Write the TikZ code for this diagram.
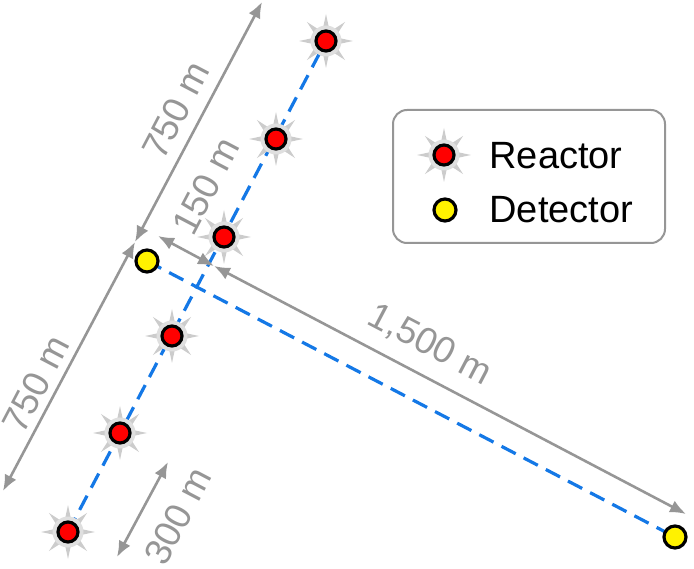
\documentclass[tikz,border=0pt]{standalone}
\usepackage{fontspec}
\setmainfont{Liberation Sans}
\usetikzlibrary{arrows.meta}
\definecolor{blu}{RGB}{20,120,230}
\definecolor{gr}{RGB}{150,150,150}
\tikzset{
  dim/.style={gr,line width=2.6pt,{Latex[length=16pt,width=13pt]}-{Latex[length=16pt,width=13pt]}},
  lab/.style={text=gr,font=\fontsize{37}{37}\selectfont},
  link/.style={blu,line width=3.2pt,dash pattern=on 16pt off 9pt},
  reactor/.pic={
    \foreach \a in {0,45,...,315}{\fill[gray!40] (\a:27)--(\a+10:15)--(\a-10:15)--cycle;}
    \fill[gray!25] (0,0) circle (15.5);
    \filldraw[fill=red,draw=black,line width=3.2pt] (0,0) circle (10);
  },
  det/.style={circle,fill=yellow,draw=black,line width=3.2pt,minimum size=22pt,inner sep=0}
}
\begin{document}
\begin{tikzpicture}[x=1pt,y=-1pt]
\useasboundingbox (0,0) rectangle (694,569);
\coordinate (r1) at (68,532);
\coordinate (r6) at (326,41);
\coordinate (nd) at (147,261);
\coordinate (fd) at (675,537);
\draw[link] (r1) -- (r6);
\draw[link] (nd) -- (fd);
\foreach \p/\q in {68/532,120/433,172/336,224/237,276/139,326/41}{\pic at (\p,\q) {reactor};}
\node[det] (near) at (nd) {};
\node[det] (far) at (fd) {};
% dimensions
\coordinate (a1) at (262,2); \coordinate (a2) at (135,242);
\coordinate (a3) at (3,491);
\draw[dim] (a2) -- (a1);
\draw[dim] (a3) -- (a2);
\coordinate (b1) at (158,236); \coordinate (b2) at (214,266);
\draw[dim] (b1) -- (b2);
\coordinate (c2) at (686,514);
\draw[dim] (b2) -- (c2);
\coordinate (d1) at (117,557); \coordinate (d2) at (168,462);
\draw[dim] (d1) -- (d2);
\node[lab,rotate=62.3] (l1) at (176,110) {750 m};
\node[lab,rotate=62.3] (l2) at (36,384) {750 m};
\node[lab,rotate=62.3] (l3) at (206,186) {150 m};
\node[lab,rotate=-27.7] (l4) at (430,345) {1,500 m};
\node[lab,rotate=62.3] (l5) at (178,516) {300 m};
% legend
\draw[gr,line width=2pt,fill=white,rounded corners=14pt] (393,110) rectangle (665,243);
\pic at (444,155) {reactor};
\node[det] (ld) at (445,210) {};
\node[anchor=west,font=\fontsize{38}{38}\selectfont] (t1) at (486,156) {Reactor};
\node[anchor=west,font=\fontsize{38}{38}\selectfont] (t2) at (486,210) {Detector};
\end{tikzpicture}
\end{document}
